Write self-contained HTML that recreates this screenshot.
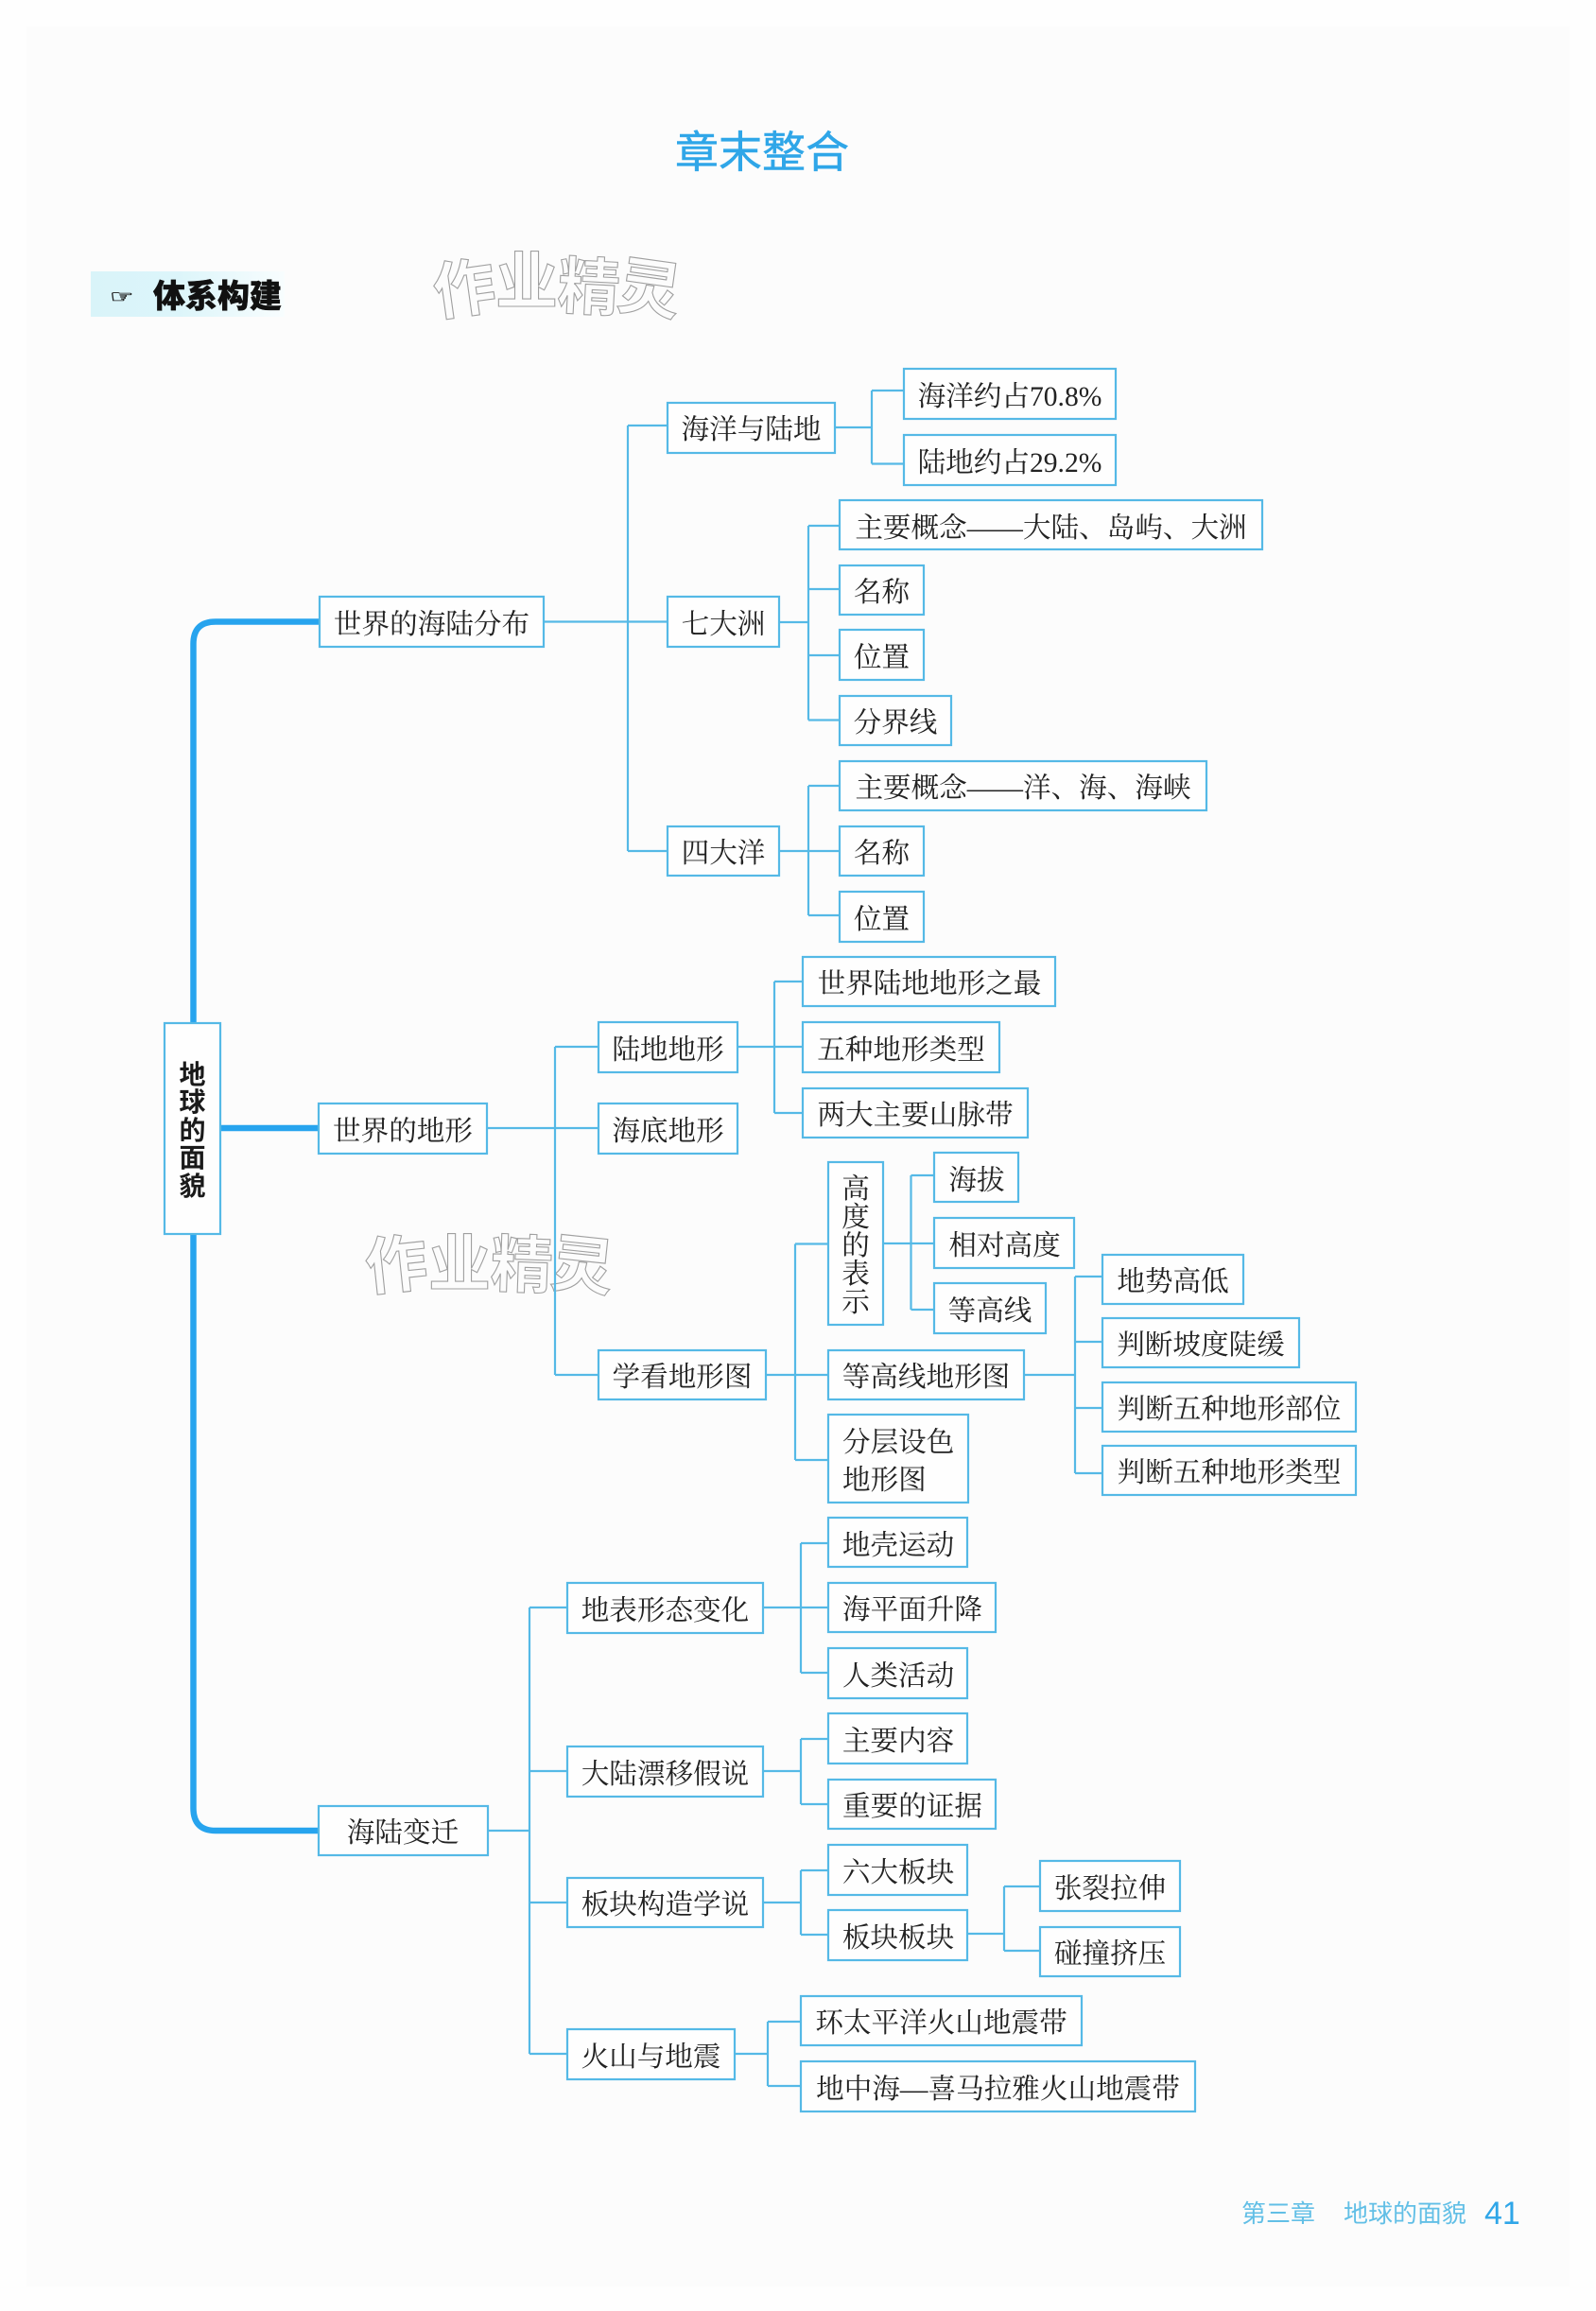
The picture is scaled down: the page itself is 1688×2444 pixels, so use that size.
<!DOCTYPE html>
<html lang="zh">
<head>
<meta charset="utf-8">
<title>章末整合</title>
<style>
html,body{margin:0;padding:0;background:#fefefe;}
svg{display:block;}
.b{fill:#fefefe;stroke:#55b9e6;stroke-width:2.2;}
.t{font-family:"Liberation Serif","Noto Serif CJK SC",serif;font-size:29.6px;fill:#222;text-anchor:middle;}
.s{font-family:"Liberation Serif","Noto Serif CJK SC",serif;font-size:29.6px;fill:#222;}
.l{fill:none;stroke:#55b9e6;stroke-width:2.2;}
.w{font-family:"Liberation Sans","Noto Sans CJK SC",sans-serif;font-size:66px;font-weight:700;fill:none;stroke:#a0a0a0;stroke-width:1.1;text-anchor:middle;}
.r{font-family:"Liberation Sans","Noto Sans CJK SC",sans-serif;font-size:28px;font-weight:700;fill:#1a1a1a;text-anchor:middle;}
.f{font-family:"Liberation Sans","Noto Sans CJK SC",sans-serif;font-size:26px;fill:#62bfe6;}
</style>
</head>
<body>
<svg width="1688" height="2444" viewBox="0 0 1688 2444" xmlns="http://www.w3.org/2000/svg">
<defs>
<linearGradient id="g" x1="0" y1="0" x2="1" y2="0">
<stop offset="0" stop-color="#d9f4f9"/>
<stop offset="0.45" stop-color="#dcf5fa"/>
<stop offset="1" stop-color="#f8fdfe"/>
</linearGradient>
</defs>
<rect x="0" y="0" width="1688" height="2444" fill="#fefefe"/>
<rect x="28" y="28" width="1632" height="2390" fill="#fcfcfc"/>

<text x="806" y="177" font-family="'Liberation Sans','Noto Sans CJK SC',sans-serif" font-size="46" fill="#2fa6e8" stroke="#2fa6e8" stroke-width=".5" text-anchor="middle">章末整合</text>

<rect x="96" y="287" width="205" height="48" fill="url(#g)"/>
<text transform="translate(116 320) scale(1.1 .72)" font-family="'DejaVu Sans',sans-serif" font-size="26" fill="#222" stroke="#222" stroke-width=".7">☞</text>
<text x="162" y="325" font-family="'Liberation Sans','Noto Sans CJK SC',sans-serif" font-size="34" font-weight="900" fill="#111" stroke="#111" stroke-width=".5">体系构建</text>

<text class="w" x="491" y="329" transform="rotate(-8 491 305)">作</text>
<text class="w" x="557" y="321">业</text>
<text class="w" x="623" y="327" transform="rotate(3 623 303)">精</text>
<text class="w" x="687" y="329" transform="rotate(8 687 305)">灵</text>

<text class="w" x="419" y="1361" transform="rotate(-6 419 1337)">作</text>
<text class="w" x="486" y="1360">业</text>
<text class="w" x="552" y="1361" transform="rotate(2 552 1337)">精</text>
<text class="w" x="616" y="1362" transform="rotate(6 616 1338)">灵</text>

<!-- connectors -->
<path class="l" d="M576 657.5H705M664 450V900M664 450H705M664 900H705
M884 452H922M922 413V490.5M922 413H955M922 490.5H955
M825 658H855M855 556V761.5M855 556H887M855 623H887M855 693H887M855 761.5H887
M825 900H887M855 831V968M855 831H887M855 968H887
M516 1193H632M587 1107V1454M587 1107H632M587 1454H632
M781 1107H848M819 1038V1177M819 1038H848M819 1177H848
M811 1454H875M841 1315.5V1544M841 1315.5H875M841 1544H875
M935 1315H987M963.5 1243V1385M963.5 1243H987M963.5 1385H987
M1084 1454H1137M1137 1350V1558M1137 1350H1165M1137 1419H1165M1137 1489H1165M1137 1558H1165
M516 1936H560M560 1700V2172M560 1700H599M560 1873H599M560 2012H599M560 2172H599
M808 1700H875M847 1632V1769M847 1632H875M847 1769H875
M808 1873H847M847 1839V1908M847 1839H875M847 1908H875
M808 2012H847M847 1978V2046M847 1978H875M847 2046H875
M778 2172H812M812 2138V2206M812 2138H846M812 2206H846
M1024 2045H1062M1062 1995V2063M1062 1995H1099M1062 2063H1099"/>

<!-- thick spine -->
<path d="M337 657.5H228Q204.5 657.5 204.5 681V1912Q204.5 1936 228 1936H337" fill="none" stroke="#27a4ee" stroke-width="6.5"/>
<path d="M234 1193H337" fill="none" stroke="#27a4ee" stroke-width="6.5"/>

<!-- root -->
<rect class="b" x="174" y="1082" width="59" height="223"/>
<text class="r" x="203.5" y="1146">地</text>
<text class="r" x="203.5" y="1175">球</text>
<text class="r" x="203.5" y="1205">的</text>
<text class="r" x="203.5" y="1234">面</text>
<text class="r" x="203.5" y="1264">貌</text>

<!-- level: 世界的海陆分布 -->
<rect class="b" x="338" y="631" width="237" height="53"/><text class="t" x="456.5" y="670">世界的海陆分布</text>
<rect class="b" x="706" y="426" width="177" height="53"/><text class="t" x="794.5" y="464">海洋与陆地</text>
<rect class="b" x="956" y="390" width="224" height="53"/><text class="t" x="1068" y="429">海洋约占70.8%</text>
<rect class="b" x="956" y="460" width="224" height="53"/><text class="t" x="1068" y="499">陆地约占29.2%</text>
<rect class="b" x="706" y="631" width="118" height="53"/><text class="t" x="765" y="670">七大洲</text>
<rect class="b" x="888" y="529" width="447" height="52"/><text class="t" x="1111.5" y="568">主要概念——大陆、岛屿、大洲</text>
<rect class="b" x="888" y="598" width="89" height="52"/><text class="t" x="932.5" y="636">名称</text>
<rect class="b" x="888" y="666" width="89" height="53"/><text class="t" x="932.5" y="705">位置</text>
<rect class="b" x="888" y="736" width="118" height="52"/><text class="t" x="947" y="774">分界线</text>
<rect class="b" x="706" y="874" width="118" height="52"/><text class="t" x="765" y="912">四大洋</text>
<rect class="b" x="888" y="805" width="388" height="52"/><text class="t" x="1082" y="843">主要概念——洋、海、海峡</text>
<rect class="b" x="888" y="874" width="89" height="52"/><text class="t" x="932.5" y="912">名称</text>
<rect class="b" x="888" y="943" width="89" height="53"/><text class="t" x="932.5" y="982">位置</text>

<!-- level: 世界的地形 -->
<rect class="b" x="337" y="1167" width="178" height="53"/><text class="t" x="426" y="1206">世界的地形</text>
<rect class="b" x="633" y="1081" width="147" height="53"/><text class="t" x="706.5" y="1120">陆地地形</text>
<rect class="b" x="633" y="1167" width="147" height="53"/><text class="t" x="706.5" y="1206">海底地形</text>
<rect class="b" x="633" y="1428" width="177" height="52"/><text class="t" x="721.5" y="1466">学看地形图</text>
<rect class="b" x="849" y="1012" width="267" height="52"/><text class="t" x="983" y="1050">世界陆地地形之最</text>
<rect class="b" x="849" y="1081" width="208" height="53"/><text class="t" x="953" y="1120">五种地形类型</text>
<rect class="b" x="849" y="1151" width="238" height="52"/><text class="t" x="968" y="1189">两大主要山脉带</text>

<rect class="b" x="876" y="1229" width="58" height="172"/>
<text class="t" x="905" y="1267">高</text>
<text class="t" x="905" y="1297">度</text>
<text class="t" x="905" y="1327">的</text>
<text class="t" x="905" y="1357">表</text>
<text class="t" x="905" y="1387">示</text>

<rect class="b" x="988" y="1219" width="89" height="52"/><text class="t" x="1033" y="1258">海拔</text>
<rect class="b" x="988" y="1288" width="148" height="53"/><text class="t" x="1062.5" y="1327">相对高度</text>
<rect class="b" x="988" y="1357" width="118" height="53"/><text class="t" x="1047" y="1396">等高线</text>
<rect class="b" x="876" y="1428" width="207" height="52"/><text class="t" x="979.5" y="1466">等高线地形图</text>
<rect class="b" x="876" y="1496" width="148" height="93"/>
<text class="s" x="891" y="1535">分层设色</text>
<text class="s" x="891" y="1575">地形图</text>
<rect class="b" x="1166" y="1327" width="149" height="52"/><text class="t" x="1240.5" y="1365">地势高低</text>
<rect class="b" x="1166" y="1394" width="208" height="52"/><text class="t" x="1270" y="1432">判断坡度陡缓</text>
<rect class="b" x="1166" y="1462" width="268" height="52"/><text class="t" x="1300" y="1500">判断五种地形部位</text>
<rect class="b" x="1166" y="1529" width="268" height="52"/><text class="t" x="1300" y="1567">判断五种地形类型</text>

<!-- level: 海陆变迁 -->
<rect class="b" x="337" y="1910" width="179" height="52"/><text class="t" x="426" y="1948">海陆变迁</text>
<rect class="b" x="600" y="1674" width="207" height="53"/><text class="t" x="703.5" y="1713">地表形态变化</text>
<rect class="b" x="600" y="1847" width="207" height="53"/><text class="t" x="703.5" y="1886">大陆漂移假说</text>
<rect class="b" x="600" y="1986" width="207" height="52"/><text class="t" x="703.5" y="2024">板块构造学说</text>
<rect class="b" x="600" y="2146" width="177" height="53"/><text class="t" x="688.5" y="2185">火山与地震</text>
<rect class="b" x="876" y="1605" width="147" height="52"/><text class="t" x="950" y="1644">地壳运动</text>
<rect class="b" x="876" y="1674" width="177" height="52"/><text class="t" x="965" y="1712">海平面升降</text>
<rect class="b" x="876" y="1743" width="147" height="53"/><text class="t" x="950" y="1782">人类活动</text>
<rect class="b" x="876" y="1812" width="147" height="53"/><text class="t" x="950" y="1851">主要内容</text>
<rect class="b" x="876" y="1882" width="177" height="52"/><text class="t" x="965" y="1920">重要的证据</text>
<rect class="b" x="876" y="1951" width="147" height="53"/><text class="t" x="950" y="1990">六大板块</text>
<rect class="b" x="876" y="2020" width="147" height="53"/><text class="t" x="950" y="2059">板块板块</text>
<rect class="b" x="1100" y="1968" width="148" height="53"/><text class="t" x="1174" y="2007">张裂拉伸</text>
<rect class="b" x="1100" y="2038" width="148" height="52"/><text class="t" x="1174" y="2076">碰撞挤压</text>
<rect class="b" x="847" y="2111" width="297" height="52"/><text class="t" x="995.5" y="2149">环太平洋火山地震带</text>
<rect class="b" x="847" y="2180" width="417" height="53"/><text class="t" x="1055.5" y="2219">地中海—喜马拉雅火山地震带</text>

<!-- footer -->
<text class="f" x="1313" y="2350">第三章</text>
<text class="f" x="1421" y="2350">地球的面貌</text>
<text x="1570" y="2352" font-family="'Liberation Sans',sans-serif" font-size="34" fill="#2fa6e8">41</text>
</svg>
</body>
</html>
